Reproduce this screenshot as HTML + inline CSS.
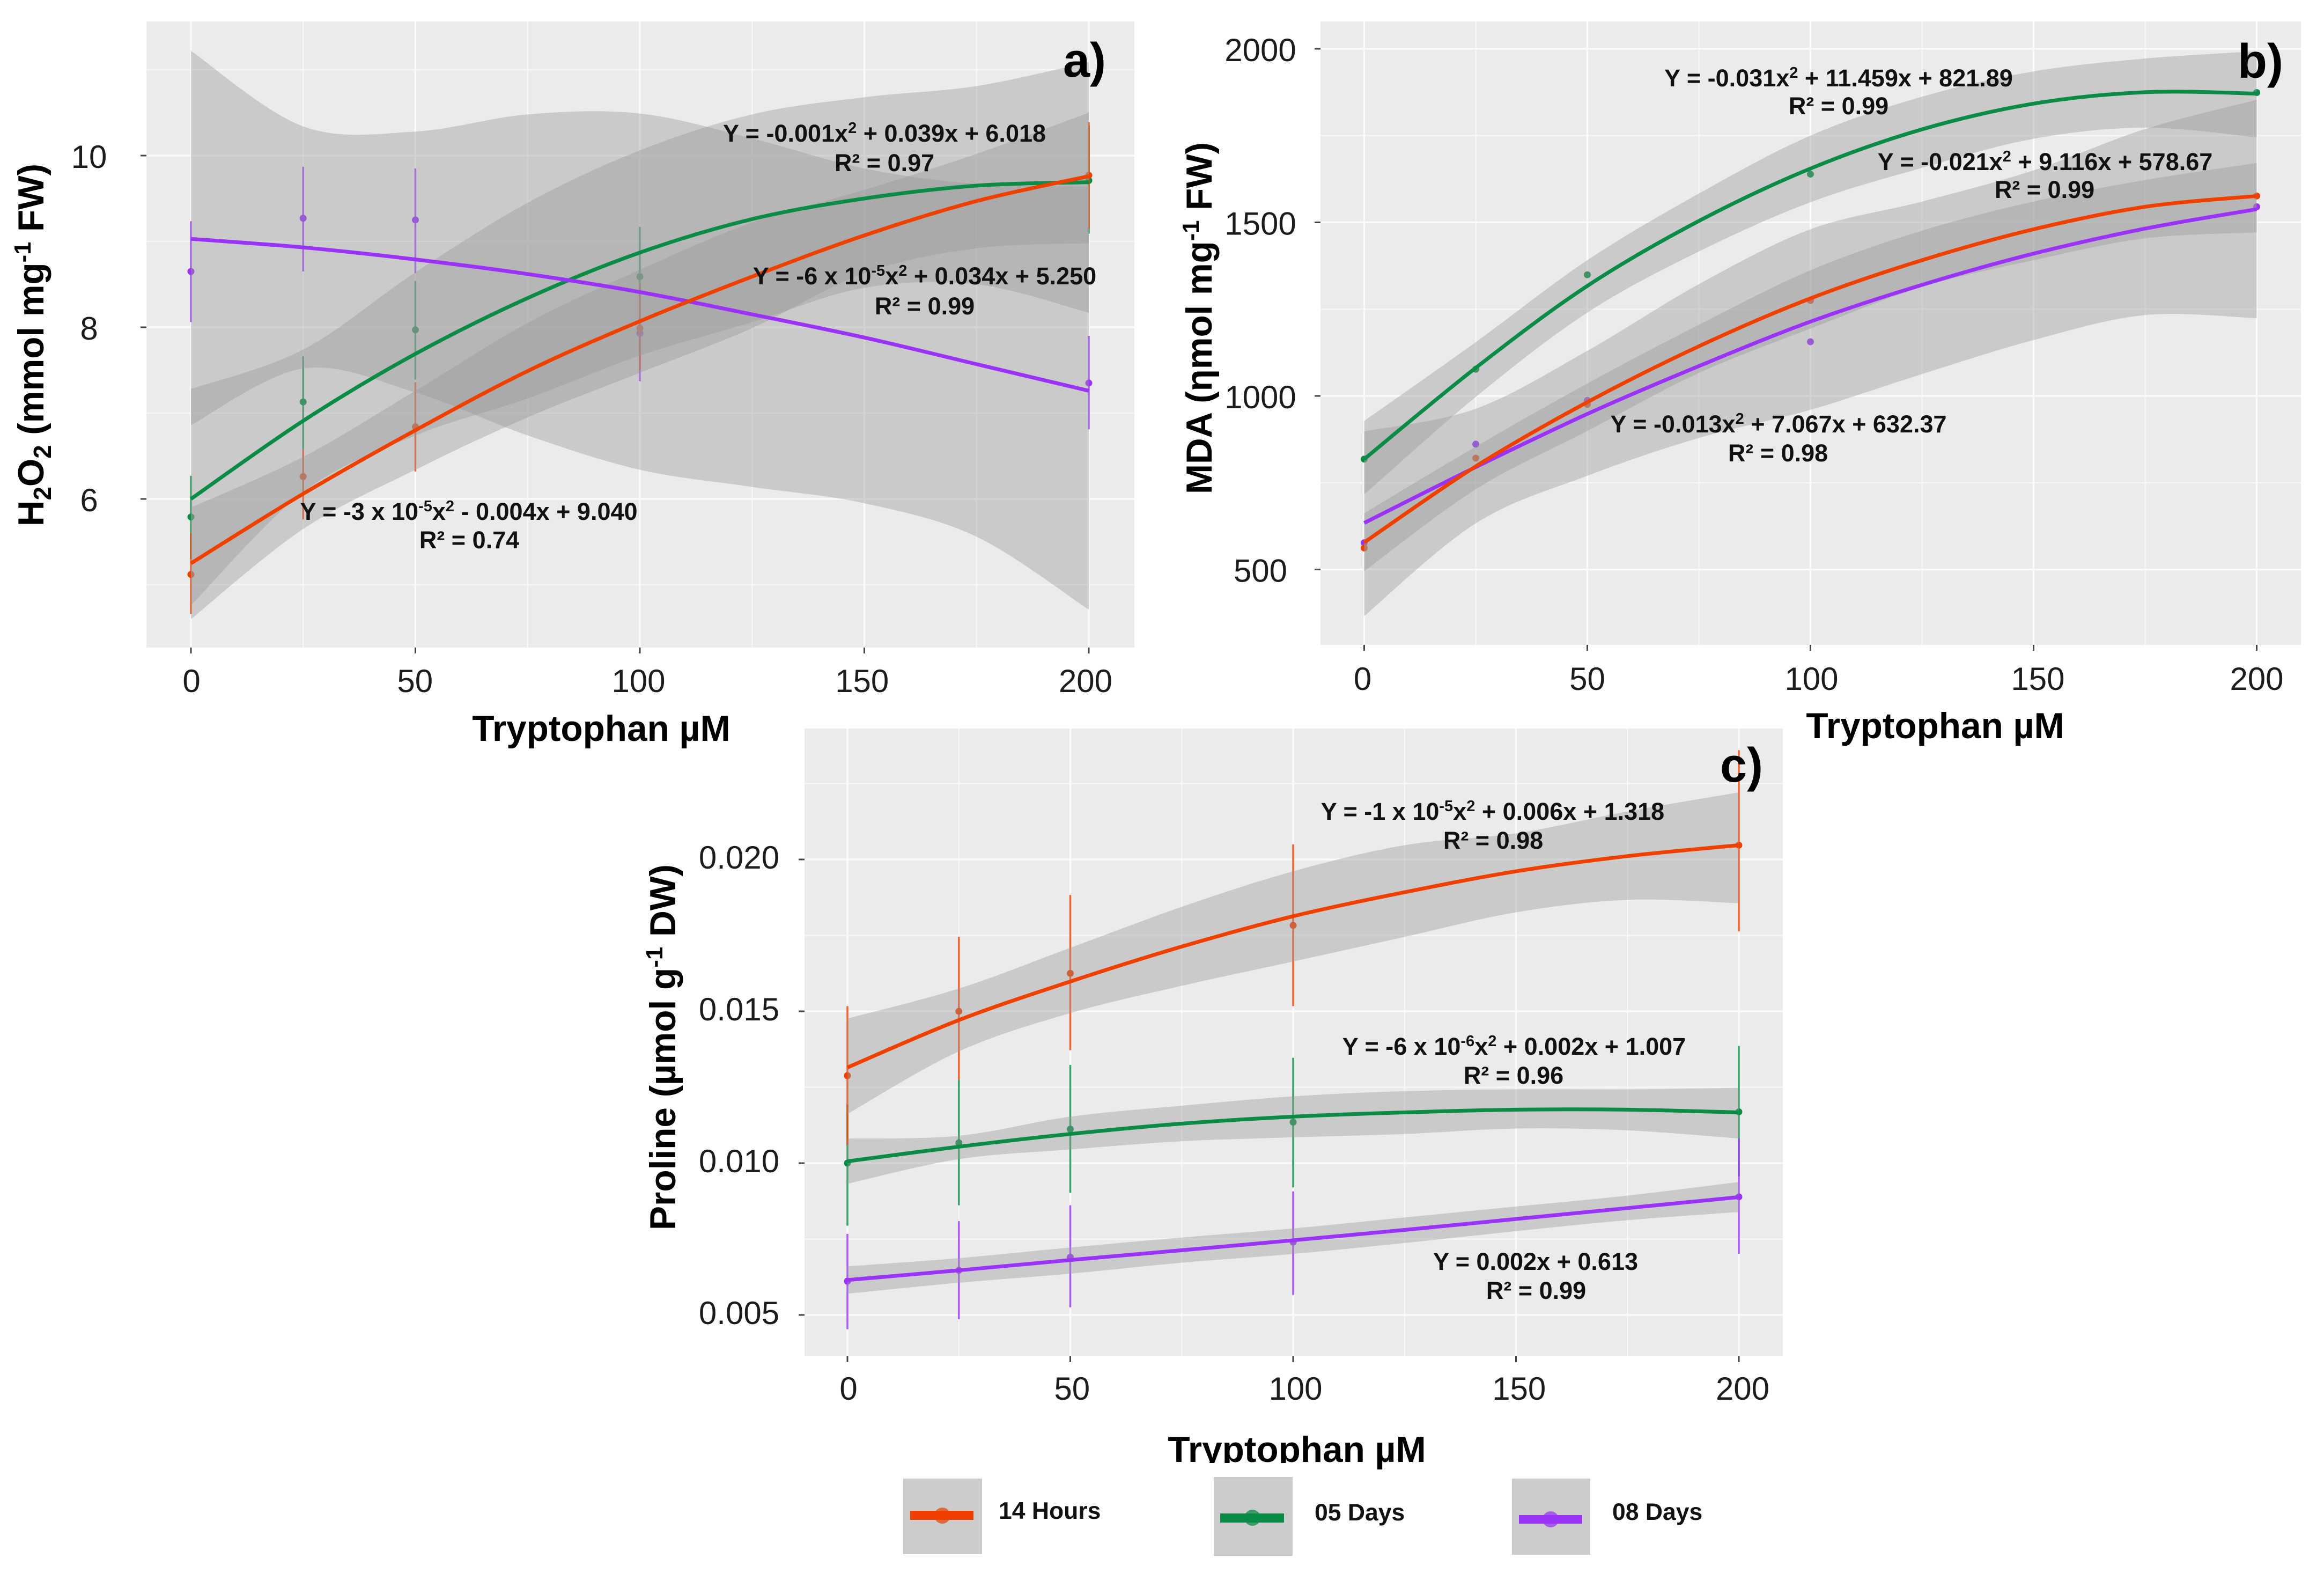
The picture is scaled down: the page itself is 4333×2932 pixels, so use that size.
<!DOCTYPE html>
<html lang="en">
<head>
<meta charset="utf-8">
<title>Tryptophan dose response</title>
<style>
html,body{margin:0;padding:0;background:#fff;}
svg{display:block;}
text{font-family:"Liberation Sans",sans-serif;}
.tick{font-size:60px;fill:#1c1c1c;text-anchor:middle;}
.axis{font-size:67.5px;font-weight:bold;fill:#000;text-anchor:middle;}
.ytitle{font-size:68px;font-weight:bold;fill:#000;text-anchor:middle;}
.eq{font-size:45px;font-weight:bold;fill:#111;text-anchor:middle;}
.tag{font-size:90px;font-weight:bold;fill:#000;}
.leg{font-size:44.5px;font-weight:bold;fill:#111;}
</style>
</head>
<body>
<svg id="figure" xmlns="http://www.w3.org/2000/svg" width="4333" height="2932" viewBox="0 0 4333 2932">
<rect width="4333" height="2932" fill="#fff"/>
<defs>
<clipPath id="clip-c-title"><rect x="2100" y="2640" width="640" height="87"/><rect x="2560" y="2640" width="45" height="105"/></clipPath>
</defs>
<g id="panel-a"></g>
<g id="panel-b"></g>
<g id="panel-c"></g>

<g>
<text class="ytitle" transform="translate(81,643) rotate(-90)" textLength="676" lengthAdjust="spacingAndGlyphs">H<tspan dy="14" font-size="46">2</tspan><tspan dy="-14">O</tspan><tspan dy="14" font-size="46">2</tspan><tspan dy="-14"> (mmol mg</tspan><tspan dy="-24" font-size="44">-1</tspan><tspan dy="24"> FW)</tspan></text>
<text class="axis" x="1121" y="1381">Tryptophan µM</text>
<text class="tag" x="1982" y="143">a)</text>
<text class="eq" x="1649" y="264">Y = -0.001x<tspan dy="-16" font-size="29">2</tspan><tspan dy="16"> + 0.039x + 6.018</tspan></text>
<text class="eq" x="1649" y="319">R² = 0.97</text>
<text class="eq" x="1724" y="530">Y = -6 x 10<tspan dy="-16" font-size="29">-5</tspan><tspan dy="16">x</tspan><tspan dy="-16" font-size="29">2</tspan><tspan dy="16"> + 0.034x + 5.250</tspan></text>
<text class="eq" x="1724" y="586">R² = 0.99</text>
<text class="eq" x="874" y="969">Y = -3 x 10<tspan dy="-16" font-size="29">-5</tspan><tspan dy="16">x</tspan><tspan dy="-16" font-size="29">2</tspan><tspan dy="16"> - 0.004x + 9.040</tspan></text>
<text class="eq" x="875" y="1022">R² = 0.74</text>
</g>

<g>
<text class="ytitle" transform="translate(2259,593) rotate(-90)" textLength="656" lengthAdjust="spacingAndGlyphs">MDA (ηmol mg<tspan dy="-24" font-size="44">-1</tspan><tspan dy="24"> FW)</tspan></text>
<text class="axis" x="3608" y="1376">Tryptophan µM</text>
<text class="tag" x="4172" y="145">b)</text>
<text class="eq" x="3428" y="161">Y = -0.031x<tspan dy="-16" font-size="29">2</tspan><tspan dy="16"> + 11.459x + 821.89</tspan></text>
<text class="eq" x="3428" y="213">R² = 0.99</text>
<text class="eq" x="3813" y="317">Y = -0.021x<tspan dy="-16" font-size="29">2</tspan><tspan dy="16"> + 9.116x + 578.67</tspan></text>
<text class="eq" x="3812" y="369">R² = 0.99</text>
<text class="eq" x="3316" y="806">Y = -0.013x<tspan dy="-16" font-size="29">2</tspan><tspan dy="16"> + 7.067x + 632.37</tspan></text>
<text class="eq" x="3315" y="860">R² = 0.98</text>
</g>

<g>
<text class="ytitle" transform="translate(1259,1952) rotate(-90)" textLength="682" lengthAdjust="spacingAndGlyphs">Proline (µmol g<tspan dy="-24" font-size="44">-1</tspan><tspan dy="24"> DW)</tspan></text>
<text class="axis" x="2418" y="2725" clip-path="url(#clip-c-title)">Tryptophan µM</text>
<text class="tag" x="3207" y="1457">c)</text>
<text class="eq" x="2783" y="1528">Y = -1 x 10<tspan dy="-16" font-size="29">-5</tspan><tspan dy="16">x</tspan><tspan dy="-16" font-size="29">2</tspan><tspan dy="16"> + 0.006x + 1.318</tspan></text>
<text class="eq" x="2784" y="1582">R² = 0.98</text>
<text class="eq" x="2823" y="1966">Y = -6 x 10<tspan dy="-16" font-size="29">-6</tspan><tspan dy="16">x</tspan><tspan dy="-16" font-size="29">2</tspan><tspan dy="16"> + 0.002x + 1.007</tspan></text>
<text class="eq" x="2822" y="2020">R² = 0.96</text>
<text class="eq" x="2863" y="2367">Y = 0.002x + 0.613</text>
<text class="eq" x="2864" y="2421">R² = 0.99</text>
</g>

<g>
<g>
<rect x="1684" y="2756" width="147" height="141" fill="#cccccc"/>
<circle cx="1757" cy="2825" r="15" fill="#dd6b40"/>
<rect x="1697" y="2816" width="118" height="17" fill="#f04000"/>
<text class="leg" x="1862" y="2831">14 Hours</text>
</g>
<g>
<rect x="2263" y="2753" width="147" height="147" fill="#cccccc"/>
<circle cx="2335" cy="2829" r="15" fill="#3f9a68"/>
<rect x="2275" y="2821" width="119" height="17" fill="#0a8c46"/>
<text class="leg" x="2451" y="2834">05 Days</text>
</g>
<g>
<rect x="2819" y="2756" width="146" height="142" fill="#cccccc"/>
<circle cx="2891" cy="2832" r="15" fill="#a65ce8"/>
<rect x="2832" y="2824" width="118" height="16" fill="#9a33f7"/>
<text class="leg" x="3006" y="2833">08 Days</text>
</g>
</g>
</svg>

<script>
// Shared x values
const doseLevels = [0, 25, 50, 100, 200];
const fitDoses = [0, 25, 50, 75, 100, 125, 150, 175, 200];
const xTickValues = [0, 50, 100, 150, 200];
const xMinorValues = [25, 75, 125, 175];

// Panel a: H2O2
const aYTicks = [6, 8, 10];
const aYMinor = [5, 7, 9, 11];
const aFit14h = [5.25, 6.06, 6.80, 7.49, 8.07, 8.59, 9.07, 9.47, 9.76];
const aUpper14h = [5.90, 6.49, 7.26, 8.05, 8.67, 9.22, 9.60, 10.02, 10.50];
const aLower14h = [4.60, 5.65, 6.34, 6.95, 7.47, 7.99, 8.63, 8.92, 8.98];
const aMean14h = [5.12, 6.26, 6.84, 7.99, 9.77];
const aErrHigh14h = [5.60, 6.58, 7.36, 8.50, 10.39];
const aErrLow14h = [4.66, 5.76, 6.32, 7.50, 9.15];
const aFit5d = [6.00, 6.91, 7.69, 8.34, 8.87, 9.26, 9.50, 9.65, 9.69];
const aUpper5d = [7.28, 7.74, 8.64, 9.45, 10.06, 10.48, 10.68, 10.81, 11.09];
const aLower5d = [4.76, 6.08, 6.74, 7.17, 7.67, 8.06, 8.46, 8.50, 8.17];
const aMean5d = [5.79, 7.13, 7.97, 8.59, 9.71];
const aErrHigh5d = [6.27, 7.66, 8.54, 9.17, 10.35];
const aErrLow5d = [5.30, 6.58, 7.39, 8.00, 9.09];
const aFit8d = [9.03, 8.93, 8.79, 8.62, 8.41, 8.15, 7.88, 7.57, 7.26];
const aUpper8d = [11.22, 10.34, 10.28, 10.48, 10.49, 10.20, 9.85, 9.67, 9.64];
const aLower8d = [6.86, 7.52, 7.24, 6.74, 6.34, 6.14, 5.95, 5.56, 4.71];
const aMean8d = [8.65, 9.27, 9.25, 7.93, 7.35];
const aErrHigh8d = [9.235, 9.87, 9.85, 8.50, 7.90];
const aErrLow8d = [8.06, 8.65, 8.63, 7.37, 6.81];

// Panel b: MDA
const bYTicks = [500, 1000, 1500, 2000];
const bYMinor = [750, 1250, 1750];
const bFit14h = [578, 797, 982, 1143, 1281, 1391, 1480, 1545, 1576];
const bUpper14h = [662, 854, 1036, 1205, 1362, 1476, 1560, 1622, 1671];
const bLower14h = [495, 731, 899, 1066, 1194, 1314, 1391, 1454, 1471];
const bMean14h = [562, 821, 976, 1275, 1576];
const bFit5d = [818, 1081, 1317, 1504, 1655, 1768, 1842, 1875, 1871];
const bUpper5d = [928, 1155, 1391, 1583, 1750, 1862, 1935, 1972, 1993];
const bLower5d = [716, 997, 1240, 1416, 1558, 1657, 1741, 1773, 1745];
const bMean5d = [818, 1077, 1349, 1639, 1874];
const bFit8d = [634, 795, 948, 1086, 1214, 1320, 1410, 1482, 1538];
const bUpper8d = [898, 963, 1130, 1322, 1480, 1560, 1650, 1769, 1853];
const bLower8d = [366, 633, 770, 879, 960, 1063, 1161, 1233, 1224];
const bMean8d = [577, 861, 987, 1156, 1545];

// Panel c: Proline
const cYTicks = [0.005, 0.010, 0.015, 0.020];
const cYMinor = [0.0075, 0.0125, 0.0175, 0.0225];
const cFit14h = [0.01315, 0.01471, 0.01598, 0.01713, 0.01813, 0.01892, 0.01961, 0.02011, 0.02047];
const cUpper14h = [0.01476, 0.01575, 0.01709, 0.01844, 0.01961, 0.02047, 0.02086, 0.02158, 0.02221];
const cLower14h = [0.01162, 0.01368, 0.01494, 0.01584, 0.01664, 0.01745, 0.01826, 0.01867, 0.01856];
const cMean14h = [0.01288, 0.0150, 0.01625, 0.01783, 0.02047];
const cErrHigh14h = [0.01517, 0.01745, 0.01883, 0.0205, 0.0236];
const cErrLow14h = [0.0106, 0.01275, 0.01372, 0.01517, 0.01763];
const cFit5d = [0.01006, 0.01054, 0.01096, 0.0113, 0.01153, 0.01167, 0.01176, 0.01176, 0.01167];
const cUpper5d = [0.01081, 0.0109, 0.01153, 0.01189, 0.0122, 0.01237, 0.01243, 0.01243, 0.01248];
const cLower5d = [0.00932, 0.01013, 0.01045, 0.01072, 0.01085, 0.01096, 0.01114, 0.01108, 0.01081];
const cMean5d = [0.0100, 0.01067, 0.01112, 0.01135, 0.01169];
const cErrHigh5d = [0.01194, 0.01275, 0.01323, 0.01347, 0.01386];
const cErrLow5d = [0.00794, 0.00861, 0.00902, 0.0092, 0.00956];
const cFit8d = [0.00615, 0.00647, 0.00681, 0.00713, 0.00746, 0.0078, 0.00816, 0.00852, 0.00888];
const cUpper8d = [0.0066, 0.00687, 0.00722, 0.00755, 0.00785, 0.00821, 0.00857, 0.00893, 0.00938];
const cLower8d = [0.0057, 0.00606, 0.00636, 0.00672, 0.00701, 0.00737, 0.00776, 0.00812, 0.00839];
const cMean8d = [0.00611, 0.00647, 0.0069, 0.0074, 0.00889];
const cErrHigh8d = [0.00767, 0.00809, 0.00861, 0.00907, 0.01081];
const cErrLow8d = [0.00453, 0.00486, 0.00525, 0.00566, 0.00701];

const SVGNS = 'http://www.w3.org/2000/svg';
const ORANGE = '#f04000';
const GREEN = '#0a8c46';
const PURPLE = '#9a33f7';

function mk(parent, tag, attrs) {
  const el = document.createElementNS(SVGNS, tag);
  for (const k in attrs) el.setAttribute(k, attrs[k]);
  parent.appendChild(el);
  return el;
}
function linear(d0, d1, r0, r1) {
  return function (v) { return r0 + (v - d0) * (r1 - r0) / (d1 - d0); };
}
function splineSegs(p) {
  let s = '';
  for (let i = 0; i < p.length - 1; i++) {
    const a = p[Math.max(i - 1, 0)], b = p[i], c = p[i + 1], d = p[Math.min(i + 2, p.length - 1)];
    const c1x = b[0] + (c[0] - a[0]) / 6, c1y = b[1] + (c[1] - a[1]) / 6;
    const c2x = c[0] - (d[0] - b[0]) / 6, c2y = c[1] - (d[1] - b[1]) / 6;
    s += 'C' + c1x.toFixed(1) + ' ' + c1y.toFixed(1) + ' ' + c2x.toFixed(1) + ' ' + c2y.toFixed(1) + ' ' + c[0].toFixed(1) + ' ' + c[1].toFixed(1);
  }
  return s;
}
function curve(xs, ys, X, Y) {
  return xs.map(function (x, i) { return [X(x), Y(ys[i])]; });
}

function drawPanel(cfg) {
  const g = document.getElementById(cfg.id);
  const X = linear(0, 200, cfg.x0, cfg.x200);
  const Y = linear(cfg.yRef[0], cfg.yRef[1], cfg.yPx[0], cfg.yPx[1]);
  const bg = mk(g, 'rect', {x: cfg.left, y: cfg.top, width: cfg.right - cfg.left, height: cfg.bottom - cfg.top, fill: '#ebebeb'});
  
  

  cfg.yMinor.forEach(function (v) {
    const l = mk(g, 'line', {x1: cfg.left, x2: cfg.right, y1: Y(v), y2: Y(v), stroke: '#f7f7f7', 'stroke-width': 2.5});
    
    
  });
  xMinorValues.forEach(function (v) {
    const l = mk(g, 'line', {x1: X(v), x2: X(v), y1: cfg.top, y2: cfg.bottom, stroke: '#f7f7f7', 'stroke-width': 2.5});
    
    
  });
  cfg.yTicks.forEach(function (v) {
    const l = mk(g, 'line', {x1: cfg.left, x2: cfg.right, y1: Y(v), y2: Y(v), stroke: '#fafafa', 'stroke-width': 3.5});
    
    
    const t = mk(g, 'line', {x1: cfg.left - 11, x2: cfg.left, y1: Y(v), y2: Y(v), stroke: '#444', 'stroke-width': 3});
    
    
    const lab = mk(g, 'text', {x: cfg.yLabelX, y: Y(v) + cfg.yLabelDy, class: 'tick'});
    
    
    lab.textContent = cfg.fmt(v);
  });
  xTickValues.forEach(function (v) {
    const l = mk(g, 'line', {x1: X(v), x2: X(v), y1: cfg.top, y2: cfg.bottom, stroke: '#fafafa', 'stroke-width': 3.5});
    
    
    const t = mk(g, 'line', {x1: X(v), x2: X(v), y1: cfg.bottom, y2: cfg.bottom + 11, stroke: '#444', 'stroke-width': 3});
    
    
    const lab = mk(g, 'text', {x: X(v) + cfg.xLabelShift(v), y: cfg.xLabelY, class: 'tick'});
    
    
    lab.textContent = String(v);
  });

  cfg.series.forEach(function (s) {
    if (s.errHigh) {
      doseLevels.forEach(function (d, i) {
        const e = mk(g, 'line', {x1: X(d), x2: X(d), y1: Y(s.errHigh[i]), y2: Y(s.errLow[i]), stroke: s.color, 'stroke-width': 3.5, 'stroke-opacity': 0.8});
        
        
      });
    }
    doseLevels.forEach(function (d, i) {
      const c = mk(g, 'circle', {cx: X(d), cy: Y(s.mean[i]), r: 6.5, fill: s.color});
      
      
    });
  });
  cfg.series.forEach(function (s) {
    const up = curve(fitDoses, s.upper, X, Y);
    const lo = curve(fitDoses, s.lower, X, Y).reverse();
    const d = 'M' + up[0][0] + ' ' + up[0][1] + splineSegs(up) + 'L' + lo[0][0] + ' ' + lo[0][1] + splineSegs(lo) + 'Z';
    const r = mk(g, 'path', {d: d, fill: '#999999', 'fill-opacity': 0.4});
    
    
  });
  cfg.series.forEach(function (s) {
    const p = curve(fitDoses, s.fit, X, Y);
    const l = mk(g, 'path', {d: 'M' + p[0][0] + ' ' + p[0][1] + splineSegs(p), fill: 'none', stroke: s.color, 'stroke-width': 7});
    
    
  });
}

drawPanel({
  id: 'panel-a', left: 273, right: 2115, top: 40, bottom: 1207,
  x0: 356, x200: 2030, yRef: [6, 10], yPx: [930, 290],
  yTicks: aYTicks, yMinor: aYMinor, yLabelX: 166, yLabelDy: 23,
  xLabelY: 1290, xLabelShift: function (v) { return 1 - v * 0.035; },
  fmt: function (v) { return String(v); },
  series: [
    {color: GREEN, fit: aFit5d, upper: aUpper5d, lower: aLower5d, mean: aMean5d, errHigh: aErrHigh5d, errLow: aErrLow5d},
    {color: PURPLE, fit: aFit8d, upper: aUpper8d, lower: aLower8d, mean: aMean8d, errHigh: aErrHigh8d, errLow: aErrLow8d},
    {color: ORANGE, fit: aFit14h, upper: aUpper14h, lower: aLower14h, mean: aMean14h, errHigh: aErrHigh14h, errLow: aErrLow14h}
  ]
});
drawPanel({
  id: 'panel-b', left: 2462, right: 4290, top: 40, bottom: 1202,
  x0: 2543.5, x200: 4207.5, yRef: [500, 2000], yPx: [1061.5, 91],
  yTicks: bYTicks, yMinor: bYMinor, yLabelX: 2350, yLabelDy: 23,
  xLabelY: 1286, xLabelShift: function (v) { return v === 0 ? -3 : (v === 150 ? 8 : (v === 100 ? 2 : 0)); },
  fmt: function (v) { return String(v); },
  series: [
    {color: GREEN, fit: bFit5d, upper: bUpper5d, lower: bLower5d, mean: bMean5d},
    {color: PURPLE, fit: bFit8d, upper: bUpper8d, lower: bLower8d, mean: bMean8d},
    {color: ORANGE, fit: bFit14h, upper: bUpper14h, lower: bLower14h, mean: bMean14h}
  ]
});
drawPanel({
  id: 'panel-c', left: 1500, right: 3324, top: 1358, bottom: 2528,
  x0: 1580, x200: 3242, yRef: [0.005, 0.020], yPx: [2451, 1602],
  yTicks: cYTicks, yMinor: cYMinor, yLabelX: 1378, yLabelDy: 17,
  xLabelY: 2609, xLabelShift: function (v) { return 2 + v * 0.025; },
  fmt: function (v) { return v.toFixed(3); },
  series: [
    {color: GREEN, fit: cFit5d, upper: cUpper5d, lower: cLower5d, mean: cMean5d, errHigh: cErrHigh5d, errLow: cErrLow5d},
    {color: PURPLE, fit: cFit8d, upper: cUpper8d, lower: cLower8d, mean: cMean8d, errHigh: cErrHigh8d, errLow: cErrLow8d},
    {color: ORANGE, fit: cFit14h, upper: cUpper14h, lower: cLower14h, mean: cMean14h, errHigh: cErrHigh14h, errLow: cErrLow14h}
  ]
});
</script>
</body>
</html>
